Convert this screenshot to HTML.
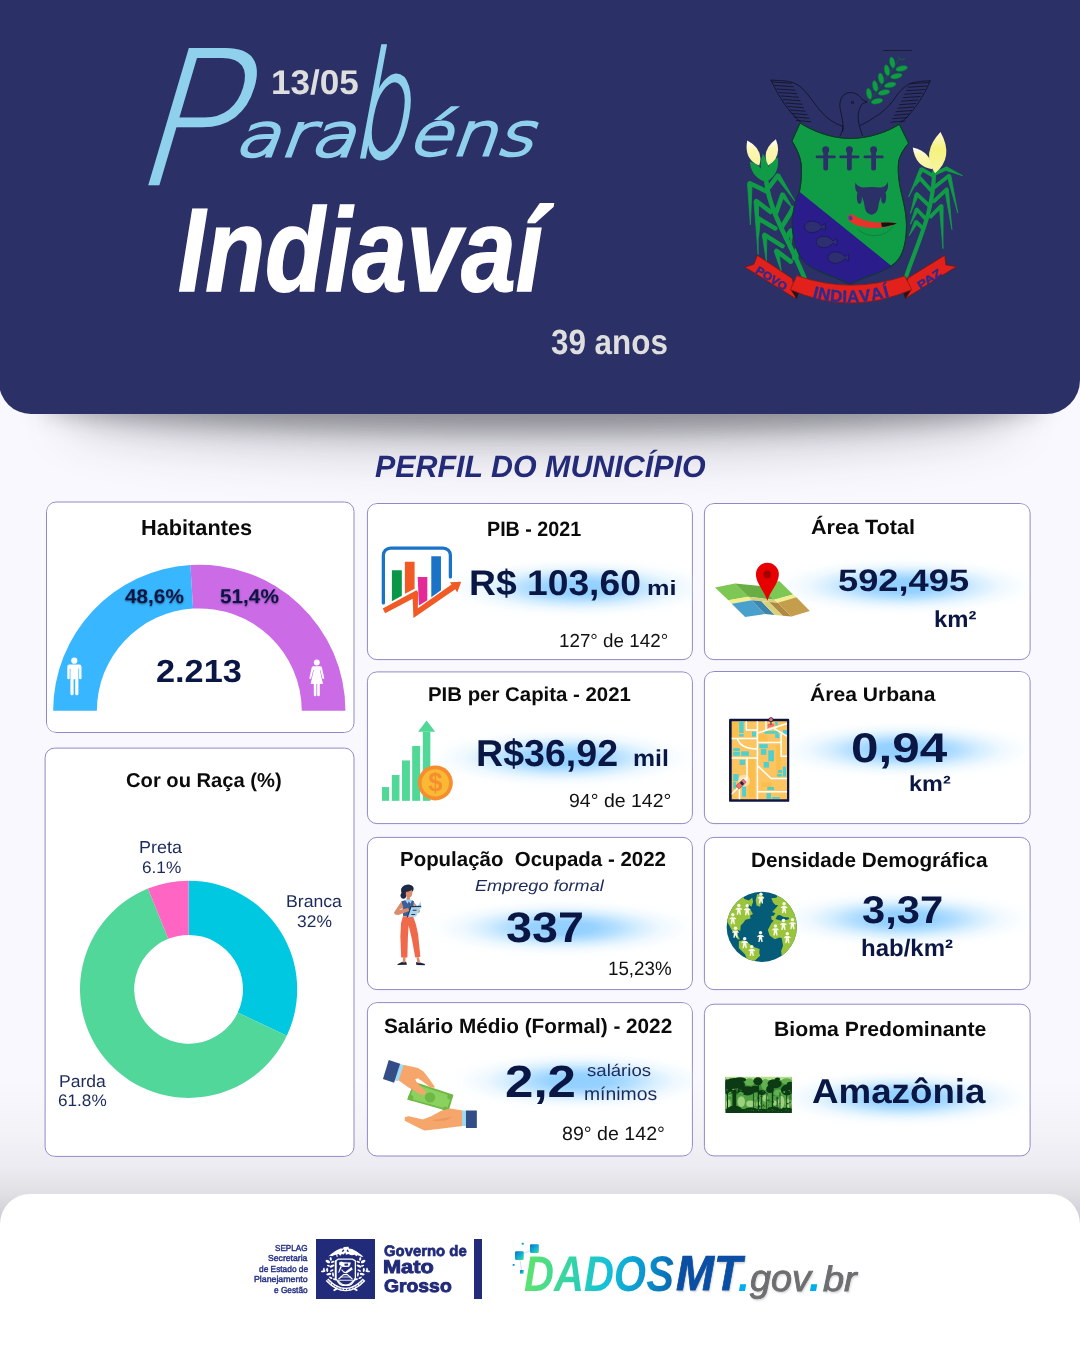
<!DOCTYPE html>
<html lang="pt-BR">
<head>
<meta charset="utf-8">
<title>Parabéns Indiavaí - Perfil do Município</title>
<style>
html,body{margin:0;padding:0}
body{width:1080px;height:1350px;position:relative;overflow:hidden;background:#f9f8fe;font-family:'Liberation Sans',sans-serif}
#page{position:absolute;left:0;top:0;width:1080px;height:1350px;overflow:hidden;background:linear-gradient(180deg,#f9f8fe 0px,#f9f8fe 1080px,#f3f2f7 1135px,#ecebf1 1168px,#dfdfe4 1194px,#c8c8ce 1226px,#c8c8ce 1350px)}
.t{position:absolute;white-space:nowrap;transform-origin:0 0;display:block;text-rendering:geometricPrecision}
.script{margin:0;padding:0;position:absolute;left:0;top:0;font-weight:400}
.sh{text-shadow:0 1px 2px rgba(0,0,30,.45)}
header{position:absolute;left:-1px;top:0;width:1081px;height:413.5px;background:#2b3067;border-radius:0 0 34px 32px;z-index:3}
.hshadow{position:absolute;left:40px;top:376px;width:1004px;height:56px;background:rgba(30,30,40,.40);border-radius:50%;filter:blur(12px);z-index:1}
.hshadow2{position:absolute;left:60px;top:380px;width:960px;height:80px;background:rgba(30,30,40,.16);border-radius:50%;filter:blur(22px);z-index:1}
main{position:absolute;left:0;top:0;width:1080px;height:1350px;z-index:2}
.card{position:absolute;box-sizing:border-box;border-radius:11px;overflow:hidden}
.cb{position:absolute;left:0;top:0}
.glow{position:absolute;border-radius:50%;background:radial-gradient(closest-side,rgba(140,205,255,.95) 0%,rgba(142,206,255,.92) 22%,rgba(155,212,255,.75) 38%,rgba(175,222,255,.5) 54%,rgba(200,233,255,.27) 70%,rgba(225,242,255,.1) 86%,rgba(255,255,255,0) 100%)}
.ic{position:absolute;overflow:visible}
.dlogo{position:absolute;left:0;top:0}
footer{position:absolute;left:0;top:1193.5px;width:1080px;height:156.5px;background:#fff;border-radius:30px 30px 0 0;z-index:3}
footer .sq{position:absolute;left:315.6px;top:45.5px;width:59.6px;height:59.5px;background:#222b7a}
footer .bar{position:absolute;left:474px;top:45.5px;width:8px;height:59.5px;background:#222b7a}
.gov{-webkit-text-stroke:.9px #6d6e71;text-shadow:1px 1.5px 2px rgba(0,0,0,.16)}
.mt{-webkit-text-stroke:.8px #0a4fa3;text-shadow:1px 2px 2px rgba(0,0,0,.18)}
.dados{background:linear-gradient(100deg,#62e566 0%,#3ad6a0 28%,#14c2d8 55%,#0b93cf 80%,#0a62ab 100%);-webkit-background-clip:text;background-clip:text;color:transparent !important;-webkit-text-fill-color:transparent}
</style>
</head>
<body>
<div id="page">
<div class="hshadow2"></div>
<div class="hshadow"></div>
<header>
<svg class="ic" style="left:1px;top:0" width="1080" height="414" viewBox="0 0 1080 414"><defs><linearGradient id="pet" x1="0" y1="0" x2="0" y2="1"><stop offset="0" stop-color="#ffffff"/><stop offset=".35" stop-color="#fcf8b4"/><stop offset="1" stop-color="#f6f2a0"/></linearGradient><linearGradient id="pet2" x1="0" y1="0" x2="0" y2="1"><stop offset="0" stop-color="#fdfbd0"/><stop offset=".4" stop-color="#f5f27e"/><stop offset="1" stop-color="#f7f4a4"/></linearGradient></defs><g id="brasao"><g fill="none" stroke="#0f0f1c" stroke-width="0.75" stroke-linecap="round" stroke-linejoin="round"><path d="M770.9 80.1C780 80.5 787 80.8 791.7 82.2C800 85 804 90 809.3 96.3C815 104 820 111.5 826.9 117.4C832 121.5 837 124.5 842.7 126.2"/><path d="M770.9 80.1C778 95 788 112 800.5 121.8"/><path d="M930.3 80.8C921 81.2 915.5 81.8 911.3 83.1C903 86.5 898.5 92.8 893.7 99.8C888 107.2 882 112.8 874.4 117.4C869.5 120.6 865 123.2 860.3 125.3"/><path d="M930.3 80.8C924 96 913 113 900.7 122.7"/><path d="M772.5 82.0L791.5 83.2"/><path d="M774.7 85.5L793.2 86.7"/><path d="M776.9 89.0L795.0 90.2"/><path d="M779.0 92.5L796.7 93.7"/><path d="M781.2 96.0L798.4 97.2"/><path d="M783.4 99.5L800.1 100.7"/><path d="M785.6 103.0L801.9 104.2"/><path d="M787.8 106.5L803.6 107.7"/><path d="M790.0 110.0L805.3 111.2"/><path d="M792.1 113.5L807.0 114.7"/><path d="M794.3 117.0L808.8 118.2"/><path d="M796.5 120.5L810.5 121.7"/><path d="M929.0 82.5L910.0 83.7"/><path d="M926.8 86.0L908.3 87.2"/><path d="M924.6 89.5L906.5 90.7"/><path d="M922.5 93.0L904.8 94.2"/><path d="M920.3 96.5L903.1 97.7"/><path d="M918.1 100.0L901.4 101.2"/><path d="M915.9 103.5L899.6 104.7"/><path d="M913.7 107.0L897.9 108.2"/><path d="M911.5 110.5L896.2 111.7"/><path d="M909.4 114.0L894.5 115.2"/><path d="M907.2 117.5L892.7 118.7"/><path d="M905.0 121.0L891.0 122.2"/><path d="M842.7 131.5C843.5 127 843 121 841 113C838.5 104 840 96.5 846 93.5C852 91 858.5 93.5 862 99.5L867.3 101.9L862.5 103.5C858 109 857 118 859.5 126C860.5 129.5 861.5 132.5 862.5 135.5"/><circle cx="852.4" cy="102.5" r="1.2"/><path d="M842.7 126.2C843.5 128.5 842 132 840 136"/></g><path d="M883.2 50.5H912.2" stroke="#15152c" stroke-width="0.8"/><path d="M868.5 102.5C878 90 888 76 899 59" stroke="#0b6b30" stroke-width="0.7" fill="none"/><ellipse cx="869.1" cy="93.7" rx="2.7" ry="5.6" transform="rotate(-12 869.1 93.7)" fill="#109b46" stroke="#0b6b30" stroke-width="0.5"/><ellipse cx="875.2" cy="86.1" rx="2.7" ry="5.6" transform="rotate(-12 875.2 86.1)" fill="#109b46" stroke="#0b6b30" stroke-width="0.5"/><ellipse cx="881.0" cy="78.4" rx="2.7" ry="5.6" transform="rotate(-12 881.0 78.4)" fill="#109b46" stroke="#0b6b30" stroke-width="0.5"/><ellipse cx="887.0" cy="70.3" rx="2.7" ry="5.6" transform="rotate(-12 887.0 70.3)" fill="#109b46" stroke="#0b6b30" stroke-width="0.5"/><ellipse cx="892.3" cy="62.5" rx="2.7" ry="5.6" transform="rotate(-12 892.3 62.5)" fill="#109b46" stroke="#0b6b30" stroke-width="0.5"/><ellipse cx="877.0" cy="101.2" rx="6" ry="2.7" transform="rotate(-12 877.0 101.2)" fill="#109b46" stroke="#0b6b30" stroke-width="0.5"/><ellipse cx="884.0" cy="92.4" rx="6" ry="2.7" transform="rotate(-12 884.0 92.4)" fill="#109b46" stroke="#0b6b30" stroke-width="0.5"/><ellipse cx="890.2" cy="84.9" rx="6" ry="2.7" transform="rotate(-12 890.2 84.9)" fill="#109b46" stroke="#0b6b30" stroke-width="0.5"/><ellipse cx="896.3" cy="76.1" rx="6" ry="2.7" transform="rotate(-12 896.3 76.1)" fill="#109b46" stroke="#0b6b30" stroke-width="0.5"/><ellipse cx="901.6" cy="68.5" rx="6" ry="2.7" transform="rotate(-12 901.6 68.5)" fill="#109b46" stroke="#0b6b30" stroke-width="0.5"/><path d="M898 57L901 60L905 58.5" stroke="#0b6b30" stroke-width="0.9" fill="none"/><g><path d="M766.4 182.1C769.4 212.1 790.3 242.6 804.3 277.6" stroke="#109b46" stroke-width="4.6" fill="none" stroke-linecap="round"/><path d="M767.0 191.6L749.8 183.3" stroke="#109b46" stroke-width="4.6" stroke-linecap="round" fill="none"/><path d="M747.5 183.4L750.4 224.8L752.1 183.3Z" fill="#109b46" stroke="#109b46" stroke-width="0.8" stroke-linejoin="round"/><path d="M770.6 211.8L756.3 201.1" stroke="#109b46" stroke-width="4.6" stroke-linecap="round" fill="none"/><path d="M754.0 201.2L758.1 254.4L758.6 201.0Z" fill="#109b46" stroke="#109b46" stroke-width="0.8" stroke-linejoin="round"/><path d="M775.3 228.4L758.1 218.3" stroke="#109b46" stroke-width="4.6" stroke-linecap="round" fill="none"/><path d="M755.8 218.4L758.7 236.7L760.4 218.2Z" fill="#109b46" stroke="#109b46" stroke-width="0.8" stroke-linejoin="round"/><path d="M782.4 246.1L764.6 234.9" stroke="#109b46" stroke-width="4.6" stroke-linecap="round" fill="none"/><path d="M762.3 235.0L766.4 261.6L766.9 234.7Z" fill="#109b46" stroke="#109b46" stroke-width="0.8" stroke-linejoin="round"/><path d="M790.7 261.6L776.5 250.9" stroke="#109b46" stroke-width="4.6" stroke-linecap="round" fill="none"/><path d="M774.2 251.4L781.2 271.0L778.7 250.4Z" fill="#109b46" stroke="#109b46" stroke-width="0.8" stroke-linejoin="round"/><path d="M769.4 186.9L777.7 175.6" stroke="#109b46" stroke-width="4.6" stroke-linecap="round" fill="none"/><path d="M775.8 176.9L794.9 201.1L779.6 174.3Z" fill="#109b46" stroke="#109b46" stroke-width="0.8" stroke-linejoin="round"/><path d="M776.5 211.8L782.4 194.6" stroke="#109b46" stroke-width="4.6" stroke-linecap="round" fill="none"/><path d="M780.6 196.0L793.1 208.8L784.2 193.2Z" fill="#109b46" stroke="#109b46" stroke-width="0.8" stroke-linejoin="round"/><path d="M782.4 226.0L793.1 208.2" stroke="#109b46" stroke-width="4.6" stroke-linecap="round" fill="none"/><path d="M791.0 207.2L790.7 213.0L795.1 209.3Z" fill="#109b46" stroke="#109b46" stroke-width="0.8" stroke-linejoin="round"/><path d="M786.0 237.9L790.7 230.7" stroke="#109b46" stroke-width="4.6" stroke-linecap="round" fill="none"/><path d="M788.4 230.8L791.3 243.8L793.0 230.6Z" fill="#109b46" stroke="#109b46" stroke-width="0.8" stroke-linejoin="round"/><path d="M794.3 258.0L796.6 250.3" stroke="#109b46" stroke-width="4.6" stroke-linecap="round" fill="none"/><path d="M794.3 250.6L797.8 259.2L798.9 250.0Z" fill="#109b46" stroke="#109b46" stroke-width="0.8" stroke-linejoin="round"/><path d="M766.4 182.1Q765.2 166.1 749.8 161.4Q751.0 177.5 766.4 182.1Z" fill="#109b46"/><path d="M766.4 182.1Q772.2 167.0 762.9 153.7Q757.1 168.9 766.4 182.1Z" fill="#109b46"/><path d="M766.4 182.1Q780.3 173.5 777.7 157.3Q763.7 166.0 766.4 182.1Z" fill="#109b46"/><path d="M759.3 165.6Q764.3 149.3 747.3 140.4Q743.5 159.2 759.3 165.6Z" fill="url(#pet)"/><path d="M768.2 165.6Q782.7 156.9 775.9 139.2Q760.6 150.5 768.2 165.6Z" fill="url(#pet)"/></g><g><path d="M934.1 172.1C933.1 212.1 920.3 235.9 906.3 275.9" stroke="#109b46" stroke-width="4.2" fill="none" stroke-linecap="round"/><path d="M932.9 175.7L921.7 169.2" stroke="#109b46" stroke-width="3.8" stroke-linecap="round" fill="none"/><path d="M919.9 168.4L908.6 197.0L923.4 170.0Z" fill="#109b46" stroke="#109b46" stroke-width="0.8" stroke-linejoin="round"/><path d="M930.6 189.9L919.9 178.1" stroke="#109b46" stroke-width="3.8" stroke-linecap="round" fill="none"/><path d="M918.2 177.1L915.1 186.4L921.5 179.0Z" fill="#109b46" stroke="#109b46" stroke-width="0.8" stroke-linejoin="round"/><path d="M930.0 206.5L916.9 194.1" stroke="#109b46" stroke-width="3.8" stroke-linecap="round" fill="none"/><path d="M915.1 193.5L910.4 213.6L918.7 194.7Z" fill="#109b46" stroke="#109b46" stroke-width="0.8" stroke-linejoin="round"/><path d="M925.2 218.4L916.9 209.5" stroke="#109b46" stroke-width="3.8" stroke-linecap="round" fill="none"/><path d="M915.2 208.7L910.4 224.3L918.7 210.2Z" fill="#109b46" stroke="#109b46" stroke-width="0.8" stroke-linejoin="round"/><path d="M922.9 228.4L916.3 221.9" stroke="#109b46" stroke-width="3.8" stroke-linecap="round" fill="none"/><path d="M914.6 221.0L909.2 235.6L918.0 222.8Z" fill="#109b46" stroke="#109b46" stroke-width="0.8" stroke-linejoin="round"/><path d="M934.7 173.9L946.0 168.6" stroke="#109b46" stroke-width="3.8" stroke-linecap="round" fill="none"/><path d="M945.2 170.3L962.6 175.7L946.7 166.8Z" fill="#109b46" stroke="#109b46" stroke-width="0.8" stroke-linejoin="round"/><path d="M934.7 187.0L948.9 175.7" stroke="#109b46" stroke-width="3.8" stroke-linecap="round" fill="none"/><path d="M947.1 176.1L957.8 213.0L950.8 175.3Z" fill="#109b46" stroke="#109b46" stroke-width="0.8" stroke-linejoin="round"/><path d="M934.1 201.2L946.6 189.3" stroke="#109b46" stroke-width="3.8" stroke-linecap="round" fill="none"/><path d="M944.7 189.6L951.9 229.6L948.4 189.1Z" fill="#109b46" stroke="#109b46" stroke-width="0.8" stroke-linejoin="round"/><path d="M930.6 216.6L941.2 205.9" stroke="#109b46" stroke-width="3.8" stroke-linecap="round" fill="none"/><path d="M939.3 206.0L943.0 248.6L943.1 205.8Z" fill="#109b46" stroke="#109b46" stroke-width="0.8" stroke-linejoin="round"/><path d="M932.3 169.2Q931.7 152.1 912.8 147.5Q915.4 166.8 932.3 169.2Z" fill="url(#pet)"/><path d="M935.1 173.3Q954.4 156.9 940.5 131.9Q920.7 152.5 935.1 173.3Z" fill="url(#pet2)"/></g><clipPath id="shc"><path d="M800.1 123 C812 130.5 830 138.3 850 138.5 C870 138.3 888 131.5 899.3 124.3 L908.6 143.1 C903 150 899.5 156 898.6 161.9 C897.8 170 898.5 177 899.3 182.6 C901.5 196 906.6 210 906.5 226 C906.4 240 904 251 899 258.5 C893.5 266 884 271 870.7 275.5 C862 278.5 855 281.5 850 284.3 C845 281.5 833 277 818.9 271.1 C810 267 805 263 802 259.4 C796 251 792.6 238 792.3 224 C792.2 212 795.5 200 799.4 191.8 C801 185 801.6 176 801.4 167 C801 158 797 149 791.9 141.1 Z"/></clipPath><path d="M800.1 123 C812 130.5 830 138.3 850 138.5 C870 138.3 888 131.5 899.3 124.3 L908.6 143.1 C903 150 899.5 156 898.6 161.9 C897.8 170 898.5 177 899.3 182.6 C901.5 196 906.6 210 906.5 226 C906.4 240 904 251 899 258.5 C893.5 266 884 271 870.7 275.5 C862 278.5 855 281.5 850 284.3 C845 281.5 833 277 818.9 271.1 C810 267 805 263 802 259.4 C796 251 792.6 238 792.3 224 C792.2 212 795.5 200 799.4 191.8 C801 185 801.6 176 801.4 167 C801 158 797 149 791.9 141.1 Z" fill="#109b46" stroke="#0a3d22" stroke-width="1" stroke-linejoin="round"/><g clip-path="url(#shc)"><path d="M780 176.2L799.4 191.8L891.5 265.9L891.5 300L780 300Z" fill="#2b1c8c"/></g><path d="M800.1 123 C812 130.5 830 138.3 850 138.5 C870 138.3 888 131.5 899.3 124.3 L908.6 143.1 C903 150 899.5 156 898.6 161.9 C897.8 170 898.5 177 899.3 182.6 C901.5 196 906.6 210 906.5 226 C906.4 240 904 251 899 258.5 C893.5 266 884 271 870.7 275.5 C862 278.5 855 281.5 850 284.3 C845 281.5 833 277 818.9 271.1 C810 267 805 263 802 259.4 C796 251 792.6 238 792.3 224 C792.2 212 795.5 200 799.4 191.8 C801 185 801.6 176 801.4 167 C801 158 797 149 791.9 141.1 Z" fill="none" stroke="#0b3a24" stroke-width="0.9" stroke-linejoin="round" opacity=".85"/><circle cx="825.7" cy="149.8" r="3.5" fill="#2b3067"/><rect x="823.3000000000001" y="149" width="4.8" height="21.5" rx="2" fill="#2b3067"/><rect x="815.7" y="155.4" width="20" height="2.9" rx="1.2" fill="#2b3067"/><circle cx="849.4" cy="149.8" r="3.5" fill="#2b3067"/><rect x="847.0" y="149" width="4.8" height="21.5" rx="2" fill="#2b3067"/><rect x="839.4" y="155.4" width="20" height="2.9" rx="1.2" fill="#2b3067"/><circle cx="873.6" cy="149.8" r="3.5" fill="#2b3067"/><rect x="871.2" y="149" width="4.8" height="21.5" rx="2" fill="#2b3067"/><rect x="863.6" y="155.4" width="20" height="2.9" rx="1.2" fill="#2b3067"/><path fill="#2b3067" d="M855.6 182.6C856.5 185 858.5 186.8 861.5 187.2C865 187.8 869 187 871.6 187C874.2 187 878.5 187.8 882 187.2C885 186.8 886.8 184.8 887.7 181.8C888.6 186 888 190 885.5 192.5C886.3 195 886.5 198 885.5 201.5C884.6 204 882.8 204.2 881.8 202C881.2 200.5 881 198.5 881.2 196.5C880 199 879 202 878.4 206C878 210 876.5 213.8 871.5 214.8C866.5 213.8 865 210 864.6 206C864 202 863 199 861.8 196.5C862 198.5 861.8 200.8 861.2 202.3C860.2 204.5 858.4 204.3 857.5 201.8C856.5 198.3 856.7 195.3 857.5 192.8C855 190.3 854.6 186.5 855.6 182.6Z"/><path d="M848.2 215.4C850.6 213.6 853.5 214.4 856 216.4C864 221 874 222.6 883 222.4C888 222.2 893 222.5 896.8 223.5C893 225.5 888 226.8 882 227.4C870 229 856.5 227.2 849.6 221.2C847.6 219.4 847.2 216.8 848.2 215.4Z" fill="#e5352b"/><path d="M881 222.7C887 222.3 893 222.6 896.8 223.5C893 225.2 887.5 226.3 882 227Z" fill="#141414"/><ellipse cx="850.4" cy="218" rx="2" ry="2.6" fill="#3f3fa0" transform="rotate(-25 850.4 218)"/><path d="M857.5 229C866 237.5 884 239 893.5 226" stroke="#0c7a38" stroke-width="0.7" fill="none"/><path d="M804.5 226.8C805.1 219.4 817.1 219.4 821.3 225.8L825.4 223.4L825.4 230.4L821.3 228.0C817.1 234.4 805.1 234.2 804.5 226.8Z" fill="#2d2f70" stroke="#1d1560" stroke-width="0.8"/><path d="M816.1 241.9C816.7 234.5 828.7 234.5 832.9 240.9L837.0 238.5L837.0 245.5L832.9 243.1C828.7 249.5 816.7 249.3 816.1 241.9Z" fill="#2d2f70" stroke="#1d1560" stroke-width="0.8"/><path d="M827.8 257.5C828.4 250.1 840.4 250.1 844.6 256.5L848.7 254.1L848.7 261.1L844.6 258.7C840.4 265.1 828.4 264.9 827.8 257.5Z" fill="#2d2f70" stroke="#1d1560" stroke-width="0.8"/><path d="M757.4 255.3L753.7 264.5L744.6 267.0L795.7 298.6L792.5 278.7Z" fill="#e2211c" stroke="#7a1512" stroke-width="0.8" stroke-linejoin="round"/><path d="M944.8 255.3L945.8 264.9L956.5 266.6L905.4 298.6L907.9 278.1Z" fill="#e2211c" stroke="#7a1512" stroke-width="0.8" stroke-linejoin="round"/><path d="M790.8 290.0L798.9 292.6L796.8 299.0Z" fill="#2a1414" /><path d="M911.3 290.0L903.2 292.6L905.4 299.0Z" fill="#2a1414" /><path d="M796.8 275.6Q850 294.5 904.9 276.0L911.7 289.6Q850 316.5 790.4 289.6Z" fill="#e2211c" stroke="#8a1a14" stroke-width="0.8" stroke-linejoin="round"/><text x="812.30 817.28 829.68 842.23 847.35 860.11 872.13 885.17" y="297.60 298.87 301.19 302.34 302.47 301.96 300.43 297.66" rotate="14.3 10.6 5.2 1.4 -2.3 -7.2 -12.0 -15.3" font-family="'Liberation Sans',sans-serif" font-weight="700" font-size="16.81" fill="#2a2c8f" stroke="#2a2c8f" stroke-width="0.4">INDIAVAÍ</text><text font-family="'Liberation Sans',sans-serif" font-weight="700" font-size="11.2" fill="#2a2c8f" stroke="#2a2c8f" stroke-width="0.4" transform="translate(754.8 272.2) rotate(32.5)" textLength="35" lengthAdjust="spacingAndGlyphs">POVO</text><text font-family="'Liberation Sans',sans-serif" font-weight="700" font-size="11.2" fill="#2a2c8f" stroke="#2a2c8f" stroke-width="0.4" transform="translate(920.4 289.6) rotate(-34)" textLength="26.5" lengthAdjust="spacingAndGlyphs">PAZ</text></g></svg>
<h1 class="script" aria-label="Parabéns"><span class="t" style="left:175.01px;top:28.45px;font-size:184.85px;line-height:184.85px;transform:scaleX(0.9663) skewX(-17deg);color:#8fd1ec;font-family:'DejaVu Sans','Liberation Sans',sans-serif;font-weight:200;-webkit-text-stroke:2.4px #8fd1ec;">P</span><span class="t" style="left:252.83px;top:106.51px;font-size:59.46px;line-height:59.46px;transform:scaleX(1.2387) skewX(-17deg);color:#8fd1ec;font-family:'DejaVu Sans','Liberation Sans',sans-serif;font-weight:200;-webkit-text-stroke:2.8px #8fd1ec;">ara</span><span class="t" style="left:374.84px;top:33.72px;font-size:146.30px;line-height:146.30px;transform:scaleX(0.6109) skewX(-17deg);color:#8fd1ec;font-family:'DejaVu Sans','Liberation Sans',sans-serif;font-weight:200;-webkit-text-stroke:3px #8fd1ec;">b</span><span class="t" style="left:425.67px;top:105.39px;font-size:59.07px;line-height:59.07px;transform:scaleX(1.2007) skewX(-17deg);color:#8fd1ec;font-family:'DejaVu Sans','Liberation Sans',sans-serif;font-weight:200;-webkit-text-stroke:2.8px #8fd1ec;">éns</span></h1>
<span class="t" style="left:271.56px;top:65.73px;font-size:34.29px;line-height:34.29px;transform:scaleX(1.0230);color:#dedede;font-family:'Liberation Sans',sans-serif;font-weight:700;">13/05</span>
<span class="t" style="left:178.87px;top:192.39px;font-size:118.76px;line-height:118.76px;transform:scaleX(0.8253);color:#fff;font-family:'Liberation Sans',sans-serif;font-weight:700;font-style:italic;-webkit-text-stroke:1.6px #fff;">Indiavaí</span>
<span class="t" style="left:552.37px;top:324.56px;font-size:35.17px;line-height:35.17px;transform:scaleX(0.8923);color:#dedede;font-family:'Liberation Sans',sans-serif;font-weight:700;">39 anos</span>
</header>
<main>
<span class="t" style="left:375.19px;top:451.53px;font-size:30.97px;line-height:30.97px;transform:scaleX(0.9819);color:#232a78;font-family:'Liberation Sans',sans-serif;font-weight:700;font-style:italic;">PERFIL DO MUNICÍPIO</span>

<section class="card" id="c_hab" style="left:46px;top:501px;width:309px;height:232px">
<svg class="cb" width="309" height="232" viewBox="0 0 309 232"><rect x="0.50" y="1.00" width="307.50" height="230.50" rx="9.5" fill="#fff" stroke="#8f8ac6" stroke-width="1"/></svg>
<svg class="ic" style="left:-46.0px;top:-501.0px" width="1080" height="1350" viewBox="0 0 1080 1350"><path fill="#38b6ff" d="M53.15 710.85A146.15 146.15 0 0 1 190.40 564.97L193.06 608.59A102.45 102.45 0 0 0 96.85 710.85Z"/><path fill="#cb6ce6" d="M190.40 564.97A146.15 146.15 0 0 1 345.45 710.85L301.75 710.85A102.45 102.45 0 0 0 193.06 608.59Z"/><g fill="#fff"><circle cx="74.3" cy="660.7" r="3.1"/><path d="M69.6 664.6h9.6a2.3 2.3 0 0 1 2.3 2.3v11.2a1.2 1.2 0 0 1 -2.4 0v-9.6h-0.7v25.2a1.6 1.6 0 0 1 -3.2 0v-14.4h-1.6v14.4a1.6 1.6 0 0 1 -3.2 0v-25.2h-0.7v9.6a1.2 1.2 0 0 1 -2.4 0v-11.2a2.3 2.3 0 0 1 2.3 -2.3z"/><circle cx="316.8" cy="662.5" r="2.95"/><path d="M313.6 666.2h6.4a2 2 0 0 1 1.9 1.3l2.3 10.3a0.9 0.9 0 0 1 -1.8 0.5l-2.1 -8.3h-0.5l3.2 14.1h-3.2v10.9a1.3 1.3 0 0 1 -2.6 0v-10.9h-0.8v10.9a1.3 1.3 0 0 1 -2.6 0v-10.9h-3.2l3.2 -14.1h-0.5l-2.1 8.3a0.9 0.9 0 0 1 -1.8 -0.5l2.3 -10.3a2 2 0 0 1 1.9 -1.3z"/></g></svg>
<span class="t" style="left:95.32px;top:15.51px;font-size:21.74px;line-height:21.74px;transform:scaleX(0.9993);color:#0b0b0b;font-family:'Liberation Sans',sans-serif;font-weight:700;">Habitantes</span>
<span class="t sh" style="left:78.73px;top:86.75px;font-size:19.89px;line-height:19.89px;transform:scaleX(1.0444);color:#0a1644;font-family:'Liberation Sans',sans-serif;font-weight:700;">48,6%</span>
<span class="t sh" style="left:173.97px;top:86.84px;font-size:19.87px;line-height:19.87px;transform:scaleX(1.0453);color:#0a1644;font-family:'Liberation Sans',sans-serif;font-weight:700;">51,4%</span>
<span class="t" style="left:110.24px;top:154.42px;font-size:32.00px;line-height:32.00px;transform:scaleX(1.0721);color:#0a1644;font-family:'Liberation Sans',sans-serif;font-weight:700;">2.213</span>
</section>
<section class="card" id="c_cor" style="left:44px;top:747px;width:311px;height:410px">
<svg class="cb" width="311" height="410" viewBox="0 0 311 410"><rect x="1.10" y="1.10" width="308.90" height="408.30" rx="9.5" fill="#fff" stroke="#8f8ac6" stroke-width="1"/></svg>
<svg class="ic" style="left:-44.0px;top:-747.0px" width="1080" height="1350" viewBox="0 0 1080 1350"><path fill="#00c8e0" d="M188.60 880.70A108.6 108.6 0 0 1 286.77 1035.74L237.78 1012.56A54.4 54.4 0 0 0 188.60 934.90Z"/><path fill="#52d79b" d="M286.77 1035.74A108.6 108.6 0 1 1 147.95 888.60L168.24 938.85A54.4 54.4 0 1 0 237.78 1012.56Z"/><path fill="#ff66c4" d="M147.95 888.60A108.6 108.6 0 0 1 188.60 880.70L188.60 934.90A54.4 54.4 0 0 0 168.24 938.85Z"/></svg>
<span class="t" style="left:82.25px;top:24.06px;font-size:20.00px;line-height:20.00px;transform:scaleX(1.0081);color:#0b0b0b;font-family:'Liberation Sans',sans-serif;font-weight:700;">Cor ou Raça (%)</span>
<span class="t" style="left:95.26px;top:91.54px;font-size:17.31px;line-height:17.31px;transform:scaleX(1.0370);color:#1c2a5c;font-family:'Liberation Sans',sans-serif;font-weight:400;">Preta</span>
<span class="t" style="left:98.14px;top:112.60px;font-size:16.69px;line-height:16.69px;transform:scaleX(1.0315);color:#1c2a5c;font-family:'Liberation Sans',sans-serif;font-weight:400;">6.1%</span>
<span class="t" style="left:241.64px;top:146.44px;font-size:17.14px;line-height:17.14px;transform:scaleX(1.0310);color:#1c2a5c;font-family:'Liberation Sans',sans-serif;font-weight:400;">Branca</span>
<span class="t" style="left:252.79px;top:166.52px;font-size:16.81px;line-height:16.81px;transform:scaleX(1.0382);color:#1c2a5c;font-family:'Liberation Sans',sans-serif;font-weight:400;">32%</span>
<span class="t" style="left:14.70px;top:325.85px;font-size:17.10px;line-height:17.10px;transform:scaleX(1.0250);color:#1c2a5c;font-family:'Liberation Sans',sans-serif;font-weight:400;">Parda</span>
<span class="t" style="left:14.14px;top:346.17px;font-size:16.75px;line-height:16.75px;transform:scaleX(1.0251);color:#1c2a5c;font-family:'Liberation Sans',sans-serif;font-weight:400;">61.8%</span>
</section>
<section class="card" id="c_pib" style="left:366px;top:503px;width:327px;height:158px">
<svg class="cb" width="327" height="158" viewBox="0 0 327 158"><rect x="1.40" y="0.50" width="325.00" height="156.10" rx="9.5" fill="#fff" stroke="#8f8ac6" stroke-width="1"/></svg>
<div class="glow" style="left:70.0px;top:53.5px;width:288px;height:62px"></div>
<svg class="ic" style="left:-366.0px;top:-503.0px" width="1080" height="1350" viewBox="0 0 1080 1350"><polygon points="391.89,570.35 401.83,570.35 401.83,595.86 391.89,601.14" fill="#0a9648" /><polygon points="404.91,561.73 414.58,561.73 414.58,588.65 404.91,593.84" fill="#f15a24" /><polygon points="417.66,576.95 427.34,576.95 427.34,600.26 418.98,605.53" fill="#e52a96" /><polygon points="431.30,556.27 440.97,556.27 440.97,590.32 431.30,597.18" fill="#1a73c7" /><path d="M383.36 602.90V555.29a7.2 7.2 0 0 1 7.2 -7.2H443.19a7.2 7.2 0 0 1 7.2 7.2V576.95" fill="none" stroke="#1a73c7" stroke-width="3.3" stroke-linecap="round"/><polygon points="382.74,608.61 416.34,590.14 418.10,591.90 417.84,608.17 451.53,584.42 449.95,582.22 461.21,581.87 457.25,592.52 455.23,589.26 413.44,618.11 412.65,598.76 385.12,613.19" fill="#f15a24" /></svg>
<span class="t" style="left:120.71px;top:16.94px;font-size:20.90px;line-height:20.90px;transform:scaleX(0.9423);color:#0b0b0b;font-family:'Liberation Sans',sans-serif;font-weight:700;">PIB - 2021</span>
<span class="t" style="left:103.10px;top:62.70px;font-size:35.79px;line-height:35.79px;transform:scaleX(1.0410);color:#0a1644;font-family:'Liberation Sans',sans-serif;font-weight:700;">R$ 103,60</span>
<span class="t" style="left:281.31px;top:76.17px;font-size:20.75px;line-height:20.75px;transform:scaleX(1.2169);color:#0a1644;font-family:'Liberation Sans',sans-serif;font-weight:700;">mi</span>
<span class="t" style="left:193.04px;top:129.23px;font-size:18.84px;line-height:18.84px;transform:scaleX(0.9987);color:#111;font-family:'Liberation Sans',sans-serif;font-weight:400;">127° de 142°</span>
</section>
<section class="card" id="c_pibpc" style="left:366px;top:671px;width:327px;height:154px">
<svg class="cb" width="327" height="154" viewBox="0 0 327 154"><rect x="1.40" y="0.90" width="325.00" height="151.70" rx="9.5" fill="#fff" stroke="#8f8ac6" stroke-width="1"/></svg>
<div class="glow" style="left:54.0px;top:56.0px;width:284px;height:62px"></div>
<svg class="ic" style="left:-366.0px;top:-671.0px" width="1080" height="1350" viewBox="0 0 1080 1350"><rect x="382.00" y="787.08" width="7.08" height="13.75" fill="#50d896"/><rect x="391.83" y="775.00" width="7.67" height="25.83" fill="#50d896"/><rect x="402.00" y="760.42" width="7.92" height="40.42" fill="#50d896"/><rect x="412.17" y="746.00" width="8.00" height="54.83" fill="#50d896"/><rect x="422.83" y="731.67" width="7.50" height="69.17" fill="#50d896"/><polygon points="426.58,720.42 435.17,731.83 418.08,731.83" fill="#50d896" /><circle cx="435.33" cy="782.92" r="17.5" fill="#f68d2e"/><circle cx="435.33" cy="782.92" r="13.7" fill="#f9b934"/><text x="435.33" y="791.22" text-anchor="middle" font-family="'Liberation Sans',sans-serif" font-weight="700" font-size="25.5" fill="#f68d2e">$</text></svg>
<span class="t" style="left:61.66px;top:14.61px;font-size:19.89px;line-height:19.89px;transform:scaleX(1.0261);color:#0b0b0b;font-family:'Liberation Sans',sans-serif;font-weight:700;">PIB per Capita - 2021</span>
<span class="t" style="left:110.19px;top:64.44px;font-size:37.46px;line-height:37.46px;transform:scaleX(1.0030);color:#0a1644;font-family:'Liberation Sans',sans-serif;font-weight:700;">R$36,92</span>
<span class="t" style="left:266.76px;top:76.02px;font-size:23.22px;line-height:23.22px;transform:scaleX(1.0669);color:#0a1644;font-family:'Liberation Sans',sans-serif;font-weight:700;">mil</span>
<span class="t" style="left:203.12px;top:121.09px;font-size:19.08px;line-height:19.08px;transform:scaleX(1.0222);color:#111;font-family:'Liberation Sans',sans-serif;font-weight:400;">94° de 142°</span>
</section>
<section class="card" id="c_pop" style="left:366px;top:836px;width:327px;height:155px">
<svg class="cb" width="327" height="155" viewBox="0 0 327 155"><rect x="1.40" y="1.40" width="325.00" height="152.20" rx="9.5" fill="#fff" stroke="#8f8ac6" stroke-width="1"/></svg>
<div class="glow" style="left:52.0px;top:62.0px;width:288px;height:60px"></div>
<svg class="ic" style="left:-366.0px;top:-836.0px" width="1080" height="1350" viewBox="0 0 1080 1350"><polygon points="397.32,964.21 401.89,962.10 406.11,961.74 406.96,964.70 397.67,965.12" fill="#1a2340" /><polygon points="416.10,962.10 420.19,962.45 424.97,964.00 424.76,965.26 416.32,964.98" fill="#1a2340" /><polygon points="403.16,957.17 405.55,957.17 405.41,962.45 402.59,962.45" fill="#d98d6c" /><polygon points="416.53,957.17 418.92,957.17 420.19,962.80 417.37,962.80" fill="#d98d6c" /><polygon points="402.95,916.35 413.15,916.56 415.96,924.45 418.08,934.30 420.40,956.82 415.26,957.38 411.74,938.52 408.57,925.15 407.87,937.82 407.38,957.38 401.19,957.38 400.34,936.41 401.05,923.04" fill="#f0694a" /><polygon points="406.96,897.00 409.77,897.00 410.19,901.22 406.11,901.22" fill="#d98d6c" /><polygon points="401.33,901.22 406.11,899.96 411.74,899.96 413.99,901.57 413.50,907.56 412.80,916.35 403.16,916.00 402.59,908.26" fill="#3b5f96" /><polygon points="405.06,899.96 407.52,903.69 408.93,901.22 410.48,903.69 412.09,900.17 409.77,899.46 406.46,899.46" fill="#a6d3ee" /><polygon points="413.85,901.93 415.96,904.74 420.19,911.08 418.78,913.19 414.56,908.26" fill="#d98d6c" /><polygon points="418.08,905.80 420.54,901.57 421.59,907.56 419.48,909.67" fill="#a6d3ee" /><polygon points="411.18,906.29 421.03,906.15 416.10,916.56 406.96,917.41" fill="#a6d3ee" /><polygon points="411.18,906.01 421.17,905.87 421.03,906.99 411.18,907.13" fill="#2a3554" /><polygon points="410.33,906.29 411.60,906.43 407.87,917.41 406.67,917.27" fill="#2a3554" /><polygon points="412.80,909.67 416.67,909.67 416.39,910.79 412.59,910.79" fill="#2a3554" /><polygon points="411.39,913.89 415.26,913.89 414.98,915.02 411.18,915.02" fill="#2a3554" /><polygon points="401.33,901.57 403.44,907.56 399.07,910.02 408.22,908.12 409.28,911.08 398.37,914.95 394.85,914.59 394.01,912.48" fill="#d98d6c" /><ellipse cx="407.38" cy="889.26" rx="6.40" ry="4.60" fill="#1f2a44" transform="rotate(-12 407.38 889.26)"/><ellipse cx="403.44" cy="895.59" rx="2.90" ry="3.10" fill="#1f2a44"/><ellipse cx="404.35" cy="891.37" rx="3.00" ry="4.40" fill="#1f2a44"/><ellipse cx="409.07" cy="893.34" rx="3.30" ry="4.10" fill="#d98d6c" transform="rotate(8 409.07 893.34)"/><ellipse cx="407.66" cy="888.56" rx="5.60" ry="3.00" fill="#1f2a44" transform="rotate(-14 407.66 888.56)"/></svg>
<span class="t" style="left:34.43px;top:13.69px;font-size:20.53px;line-height:20.53px;transform:scaleX(0.9966);color:#0b0b0b;font-family:'Liberation Sans',sans-serif;font-weight:700;white-space:pre;">População  Ocupada - 2022</span>
<span class="t" style="left:109.02px;top:42.91px;font-size:15.94px;line-height:15.94px;transform:scaleX(1.1360);color:#1c2a5c;font-family:'Liberation Sans',sans-serif;font-weight:400;font-style:italic;">Emprego formal</span>
<span class="t" style="left:140.16px;top:71.28px;font-size:42.72px;line-height:42.72px;transform:scaleX(1.0925);color:#0a1644;font-family:'Liberation Sans',sans-serif;font-weight:700;">337</span>
<span class="t" style="left:242.15px;top:124.14px;font-size:19.43px;line-height:19.43px;transform:scaleX(0.9659);color:#111;font-family:'Liberation Sans',sans-serif;font-weight:400;">15,23%</span>
</section>
<section class="card" id="c_sal" style="left:366px;top:1002px;width:327px;height:155px">
<svg class="cb" width="327" height="155" viewBox="0 0 327 155"><rect x="1.40" y="0.60" width="325.00" height="153.40" rx="9.5" fill="#fff" stroke="#8f8ac6" stroke-width="1"/></svg>
<div class="glow" style="left:76.0px;top:47.5px;width:276px;height:62px"></div>
<svg class="ic" style="left:-366.0px;top:-1002.0px" width="1080" height="1350" viewBox="0 0 1080 1350"><polygon points="414.21,1081.78 453.43,1094.82 448.54,1111.32 407.08,1099.40" fill="#6db944" /><polygon points="414.93,1084.12 451.19,1096.04 447.11,1109.08 409.43,1098.38" fill="#8bd15f" /><circle cx="430.00" cy="1097.36" r="5.2" fill="#6fb746"/><circle cx="410.65" cy="1097.67" r="2.6" fill="#6fb746"/><circle cx="449.86" cy="1096.65" r="2.6" fill="#6fb746"/><circle cx="445.28" cy="1109.08" r="2.6" fill="#6fb746"/><path d="M403.01 1065.48 L417.78 1068.84 L422.87 1071.90 L427.96 1078.52 L433.87 1086.87 L430.51 1086.67 L422.87 1080.56 L417.78 1077.30 L414.21 1079.03 L415.74 1082.08 L422.87 1089.72 L425.42 1092.27 L423.69 1094.61 L419.82 1093.29 L408.61 1086.67 L398.94 1079.54Z" fill="#f6a66b" stroke="#f6a66b" stroke-width="1.6" stroke-linejoin="round"/><polygon points="399.95,1063.75 403.72,1065.28 398.12,1081.27 394.35,1080.35" fill="#9adcf5" /><polygon points="388.75,1059.98 400.16,1063.85 394.05,1082.80 382.94,1079.03" fill="#344d86" /><path d="M405.56 1117.73 L408.61 1117.02 L422.87 1120.28 L432.04 1116.71 L441.20 1111.62 L450.37 1109.28 L462.39 1111.32 L462.39 1125.17 L440.19 1127.92 L424.91 1129.65 L419.82 1127.41 L405.56 1120.28Z" fill="#f6a66b" stroke="#f6a66b" stroke-width="1.6" stroke-linejoin="round"/><polygon points="432.04,1120.28 452.41,1116.71 446.30,1120.28 436.11,1121.30" fill="#e8905a" opacity=".7"/><polygon points="462.08,1110.60 466.36,1110.60 466.36,1125.88 462.08,1125.88" fill="#9adcf5" /><polygon points="465.96,1110.60 476.85,1110.60 476.85,1127.92 465.96,1127.92" fill="#344d86" /></svg>
<span class="t" style="left:18.29px;top:14.91px;font-size:20.63px;line-height:20.63px;transform:scaleX(1.0058);color:#0b0b0b;font-family:'Liberation Sans',sans-serif;font-weight:700;">Salário Médio (Formal) - 2022</span>
<span class="t" style="left:138.61px;top:57.27px;font-size:45.00px;line-height:45.00px;transform:scaleX(1.1339);color:#0a1644;font-family:'Liberation Sans',sans-serif;font-weight:700;">2,2</span>
<span class="t" style="left:220.81px;top:60.74px;font-size:16.79px;line-height:16.79px;transform:scaleX(1.1084);color:#1c2a5c;font-family:'Liberation Sans',sans-serif;font-weight:400;">salários</span>
<span class="t" style="left:217.84px;top:82.53px;font-size:18.30px;line-height:18.30px;transform:scaleX(1.0586);color:#1c2a5c;font-family:'Liberation Sans',sans-serif;font-weight:400;">mínimos</span>
<span class="t" style="left:196.43px;top:122.53px;font-size:19.23px;line-height:19.23px;transform:scaleX(1.0204);color:#111;font-family:'Liberation Sans',sans-serif;font-weight:400;">89° de 142°</span>
</section>
<section class="card" id="c_area" style="left:703px;top:503px;width:328px;height:158px">
<svg class="cb" width="328" height="158" viewBox="0 0 328 158"><rect x="1.40" y="0.50" width="325.70" height="156.10" rx="9.5" fill="#fff" stroke="#8f8ac6" stroke-width="1"/></svg>
<div class="glow" style="left:61.0px;top:52.5px;width:280px;height:60px"></div>
<svg class="ic" style="left:-703.0px;top:-503.0px" width="1080" height="1350" viewBox="0 0 1080 1350"><polygon points="714.93,587.39 734.99,583.52 748.23,596.76 728.37,600.32" fill="#7dc855" /><polygon points="728.37,600.32 748.23,596.76 751.80,600.32 731.63,603.69" fill="#f3ee8c" /><polygon points="731.63,603.69 751.80,600.32 765.04,614.08 745.18,616.93" fill="#4aa0cd" /><polygon points="734.99,583.52 760.96,586.07 774.20,599.82 748.23,596.76" fill="#69ad45" /><polygon points="748.23,596.76 774.20,599.82 777.77,602.87 751.80,600.32" fill="#d8d27c" /><polygon points="751.80,600.32 761.47,601.34 774.71,614.89 765.04,614.08" fill="#3f86ad" /><polygon points="761.47,601.34 769.11,602.06 782.86,615.81 774.71,614.89" fill="#d8d27c" /><polygon points="769.11,602.06 777.77,602.87 791.52,616.62 782.86,615.81" fill="#b08a42" /><polygon points="760.96,586.07 779.30,580.97 793.05,594.52 774.20,599.82" fill="#7dc855" /><polygon points="774.20,599.82 793.05,594.52 796.41,597.27 777.77,602.87" fill="#f3ee8c" /><polygon points="777.77,602.87 796.41,597.27 809.85,611.02 791.52,616.62" fill="#c49d4d" /><path d="M767.38 600.83C764.88 591.83 755.88 583.35 755.88 574.35A11.5 11.5 0 0 1 778.88 574.35C778.88 583.35 769.88 591.83 767.38 600.83Z" fill="#e60000"/><circle cx="767.38" cy="574.35" r="3.9" fill="#a50000"/></svg>
<span class="t" style="left:108.26px;top:14.61px;font-size:20.58px;line-height:20.58px;transform:scaleX(1.0495);color:#0b0b0b;font-family:'Liberation Sans',sans-serif;font-weight:700;">Área Total</span>
<span class="t" style="left:135.04px;top:62.22px;font-size:31.08px;line-height:31.08px;transform:scaleX(1.1669);color:#0a1644;font-family:'Liberation Sans',sans-serif;font-weight:700;">592,495</span>
<span class="t" style="left:231.00px;top:104.52px;font-size:23.08px;line-height:23.08px;transform:scaleX(1.0330);color:#0a1644;font-family:'Liberation Sans',sans-serif;font-weight:700;">km²</span>
</section>
<section class="card" id="c_urb" style="left:703px;top:671px;width:328px;height:154px">
<svg class="cb" width="328" height="154" viewBox="0 0 328 154"><rect x="1.40" y="0.50" width="325.70" height="152.10" rx="9.5" fill="#fff" stroke="#8f8ac6" stroke-width="1"/></svg>
<div class="glow" style="left:62.0px;top:48.5px;width:280px;height:60px"></div>
<svg class="ic" style="left:-703.0px;top:-671.0px" width="1080" height="1350" viewBox="0 0 1080 1350"><rect x="729.04" y="718.74" width="60.22" height="83.11" rx="1.2" fill="#0d1440"/><rect x="731.70" y="721.26" width="55.33" height="78.00" fill="#fdc562"/><clipPath id="umc"><rect x="731.70" y="721.26" width="55.33" height="78.00"/></clipPath><g clip-path="url(#umc)"><rect x="748.52" y="758.89" width="6.30" height="38.52" fill="#fbbb46" opacity=".8"/><rect x="761.48" y="782.59" width="10.37" height="4.44" fill="#fbbb46" opacity=".8"/><rect x="731.85" y="721.85" width="6.67" height="16.30" fill="#fbbb46" opacity=".8"/><rect x="758.52" y="734.44" width="8.89" height="7.41" fill="#fbbb46" opacity=".8"/><rect x="776.30" y="744.81" width="4.44" height="31.85" fill="#fbbb46" opacity=".8"/><rect x="739.11" y="721.11" width="4.59" height="11.85" fill="#4dd0cf"/><rect x="739.11" y="734.07" width="4.59" height="2.59" fill="#4dd0cf"/><rect x="752.00" y="731.63" width="3.93" height="5.04" fill="#4dd0cf"/><rect x="764.44" y="731.11" width="14.07" height="2.59" fill="#4dd0cf"/><rect x="775.19" y="721.85" width="2.59" height="3.70" fill="#4dd0cf"/><rect x="775.19" y="733.70" width="4.07" height="4.44" fill="#4dd0cf"/><rect x="782.96" y="730.00" width="4.07" height="4.44" fill="#4dd0cf"/><rect x="759.26" y="744.22" width="8.52" height="3.93" fill="#4dd0cf"/><rect x="760.89" y="748.89" width="5.41" height="5.93" fill="#4dd0cf"/><rect x="768.30" y="750.37" width="5.63" height="10.89" fill="#4dd0cf"/><rect x="733.19" y="748.15" width="6.67" height="2.96" fill="#4dd0cf"/><rect x="733.19" y="751.85" width="6.67" height="3.93" fill="#4dd0cf"/><rect x="741.11" y="751.33" width="7.78" height="4.44" fill="#4dd0cf"/><rect x="739.63" y="759.78" width="5.41" height="5.19" fill="#4dd0cf"/><rect x="763.70" y="762.00" width="5.33" height="5.63" fill="#4dd0cf"/><rect x="782.81" y="766.67" width="3.26" height="10.00" fill="#4dd0cf"/><rect x="778.15" y="770.00" width="3.93" height="2.96" fill="#4dd0cf"/><rect x="777.19" y="774.07" width="4.89" height="2.59" fill="#4dd0cf"/><rect x="733.19" y="774.07" width="5.33" height="7.04" fill="#4dd0cf"/><rect x="733.19" y="781.85" width="2.74" height="6.67" fill="#4dd0cf"/><rect x="742.07" y="786.30" width="4.00" height="10.37" fill="#4dd0cf"/><rect x="767.26" y="787.04" width="6.67" height="2.96" fill="#4dd0cf"/><rect x="766.52" y="793.11" width="4.44" height="5.78" fill="#4dd0cf"/><rect x="771.85" y="797.04" width="8.00" height="1.85" fill="#4dd0cf"/><path d="M731.11 738.52 L757.41 738.52" fill="none" stroke="#fff" stroke-width="1.5" stroke-linejoin="round"/><path d="M731.11 758.00 L757.41 758.00" fill="none" stroke="#fff" stroke-width="1.5" stroke-linejoin="round"/><path d="M757.41 742.59 L781.33 742.59" fill="none" stroke="#fff" stroke-width="1.5" stroke-linejoin="round"/><path d="M757.41 791.85 L787.41 791.85" fill="none" stroke="#fff" stroke-width="1.5" stroke-linejoin="round"/><path d="M757.41 765.56 L771.11 778.52 L787.41 778.52" fill="none" stroke="#fff" stroke-width="1.5" stroke-linejoin="round"/><path d="M746.30 721.11 L746.30 730.00 L757.41 730.00" fill="none" stroke="#fff" stroke-width="1.5" stroke-linejoin="round"/><path d="M757.41 720.37 L757.41 799.63" fill="none" stroke="#fff" stroke-width="1.5" stroke-linejoin="round"/><path d="M765.93 721.11 L765.93 730.00" fill="none" stroke="#fff" stroke-width="1.5" stroke-linejoin="round"/><path d="M781.11 733.70 L781.11 756.30 L787.41 756.30" fill="none" stroke="#fff" stroke-width="1.5" stroke-linejoin="round"/><path d="M739.48 788.52 L739.48 799.63" fill="none" stroke="#fff" stroke-width="1.5" stroke-linejoin="round"/><path d="M747.04 758.00 L747.04 778.15 L742.22 784.07 L731.11 794.44" fill="none" stroke="#fff" stroke-width="1.5" stroke-linejoin="round"/><path d="M757.41 733.11 L787.41 723.48" fill="none" stroke="#fff" stroke-width="1.5" stroke-linejoin="round"/><path d="M774.07 728.52 L787.41 736.30" fill="none" stroke="#fff" stroke-width="1.5" stroke-linejoin="round"/><path d="M737.41 738.74C739.41 744.74 744.41 748.89 757.41 748.89" fill="none" stroke="#fff" stroke-width="1.5"/><circle cx="744.07" cy="780.74" r="6" fill="#fff" opacity=".45"/><circle cx="744.07" cy="780.74" r="3.6" fill="#fff" opacity=".5"/><g transform="rotate(-42 741.11 784.07)"><rect x="735.91" y="781.77" width="10.4" height="4.6" rx="1.2" fill="#f26d6d" stroke="#3a2340" stroke-width=".35"/><rect x="740.91" y="782.27" width="2.6" height="3.6" rx=".6" fill="#1a2340"/></g><polygon points="767.78,723.70 774.07,723.70 774.07,725.93 767.78,728.00" fill="#f26d6d" /></g><circle cx="770.96" cy="719.63" r="2.1" fill="#f26d6d" stroke="#0d1440" stroke-width=".7"/><path d="M770.96 721.63V724.63" stroke="#0d1440" stroke-width=".9"/></svg>
<span class="t" style="left:106.65px;top:14.63px;font-size:19.82px;line-height:19.82px;transform:scaleX(1.0646);color:#0b0b0b;font-family:'Liberation Sans',sans-serif;font-weight:700;">Área Urbana</span>
<span class="t" style="left:148.17px;top:55.76px;font-size:41.43px;line-height:41.43px;transform:scaleX(1.1924);color:#0a1644;font-family:'Liberation Sans',sans-serif;font-weight:700;">0,94</span>
<span class="t" style="left:206.36px;top:102.34px;font-size:21.80px;line-height:21.80px;transform:scaleX(1.0759);color:#0a1644;font-family:'Liberation Sans',sans-serif;font-weight:700;">km²</span>
</section>
<section class="card" id="c_dens" style="left:703px;top:836px;width:328px;height:155px">
<svg class="cb" width="328" height="155" viewBox="0 0 328 155"><rect x="1.40" y="1.40" width="325.70" height="152.20" rx="9.5" fill="#fff" stroke="#8f8ac6" stroke-width="1"/></svg>
<div class="glow" style="left:63.0px;top:53.0px;width:276px;height:60px"></div>
<svg class="ic" style="left:-703.0px;top:-836.0px" width="1080" height="1350" viewBox="0 0 1080 1350"><clipPath id="glc"><circle cx="761.75" cy="926.9" r="35.1"/></clipPath><circle cx="761.75" cy="926.9" r="35.1" fill="#055c79"/><g clip-path="url(#glc)" fill="#9ac43c"><path d="M743.00 896.67 L745.50 899.17 L748.83 900.42 L752.17 897.67 L753.17 901.83 L751.33 906.83 L749.00 905.00 L747.17 905.83 L750.92 910.42 L753.00 914.00 L750.08 915.42 L750.50 918.50 L745.50 919.83 L743.00 923.33 L740.67 925.42 L740.33 930.67 L738.00 930.00 L737.58 935.00 L739.83 939.33 L738.00 939.58 L734.67 935.00 L731.33 929.17 L728.00 923.33 L725.50 919.17 L724.67 905.00 L734.67 895.00Z" stroke-linejoin="round"/><path d="M743.83 897.08 L747.17 895.83 L748.42 897.92 L746.33 899.33 L744.00 898.75Z" fill="#055c79" stroke-linejoin="round"/><path d="M757.17 894.00 L763.42 896.25 L763.00 900.00 L760.92 902.50 L760.08 906.83 L756.50 905.42 L755.67 900.00Z" stroke-linejoin="round"/><path d="M738.83 941.25 L743.00 940.17 L746.33 941.25 L753.00 946.67 L759.67 949.00 L759.25 952.50 L760.08 955.83 L754.67 960.83 L751.33 962.50 L747.17 959.58 L745.08 954.58 L738.83 947.92Z" stroke-linejoin="round"/><path d="M771.33 898.33 L776.33 897.67 L777.83 895.42 L801.33 892.50 L801.33 955.00 L781.75 957.08 L781.17 950.83 L783.00 945.83 L781.75 938.33 L779.67 937.50 L774.67 939.33 L769.67 935.42 L767.83 930.00 L771.33 923.33 L773.67 920.67 L771.33 919.17 L771.33 916.00 L773.67 915.83 L775.50 913.33 L772.17 912.08 L776.33 907.50 L778.17 905.00 L775.50 905.00 L773.00 902.50Z" stroke-linejoin="round"/><path d="M775.50 919.00 L777.33 915.42 L779.67 915.00 L783.83 917.08 L788.83 917.50 L789.00 919.00 L786.33 920.00 L783.83 919.17 L781.33 920.67 L778.00 919.83Z" fill="#055c79" stroke-linejoin="round"/></g><g fill="#f7f6e8"><circle cx="760.92" cy="894.17" r="1.75"/><path d="M757.52 897.77L759.32 896.47H762.52L764.32 897.77L763.82 898.77L762.42 898.17L763.12 903.57H761.82L760.92 900.57L760.02 903.57H758.72L759.42 898.17L758.02 898.77Z"/><circle cx="738.83" cy="905.42" r="1.75"/><path d="M735.43 909.02L737.23 907.72H740.43L742.23 909.02L741.73 910.02L740.33 909.42L741.03 914.82H739.73L738.83 911.82L737.93 914.82H736.63L737.33 909.42L735.93 910.02Z"/><circle cx="747.17" cy="905.83" r="1.75"/><path d="M743.77 909.43L745.57 908.13H748.77L750.57 909.43L750.07 910.43L748.67 909.83L749.37 915.23H748.07L747.17 912.23L746.27 915.23H744.97L745.67 909.83L744.27 910.43Z"/><circle cx="732.83" cy="914.83" r="1.75"/><path d="M729.43 918.43L731.23 917.13H734.43L736.23 918.43L735.73 919.43L734.33 918.83L735.03 924.23H733.73L732.83 921.23L731.93 924.23H730.63L731.33 918.83L729.93 919.43Z"/><circle cx="735.50" cy="928.33" r="1.75"/><path d="M732.10 931.93L733.90 930.63H737.10L738.90 931.93L738.40 932.93L737.00 932.33L737.70 937.73H736.40L735.50 934.73L734.60 937.73H733.30L734.00 932.33L732.60 932.93Z"/><circle cx="744.67" cy="938.75" r="1.75"/><path d="M741.27 942.35L743.07 941.05H746.27L748.07 942.35L747.57 943.35L746.17 942.75L746.87 948.15H745.57L744.67 945.15L743.77 948.15H742.47L743.17 942.75L741.77 943.35Z"/><circle cx="751.75" cy="946.67" r="1.75"/><path d="M748.35 950.27L750.15 948.97H753.35L755.15 950.27L754.65 951.27L753.25 950.67L753.95 956.07H752.65L751.75 953.07L750.85 956.07H749.55L750.25 950.67L748.85 951.27Z"/><circle cx="760.50" cy="932.67" r="1.75"/><path d="M757.10 936.27L758.90 934.97H762.10L763.90 936.27L763.40 937.27L762.00 936.67L762.70 942.07H761.40L760.50 939.07L759.60 942.07H758.30L759.00 936.67L757.60 937.27Z"/><circle cx="784.08" cy="903.75" r="1.75"/><path d="M780.68 907.35L782.48 906.05H785.68L787.48 907.35L786.98 908.35L785.58 907.75L786.28 913.15H784.98L784.08 910.15L783.18 913.15H781.88L782.58 907.75L781.18 908.35Z"/><circle cx="783.42" cy="920.58" r="1.75"/><path d="M780.02 924.18L781.82 922.88H785.02L786.82 924.18L786.32 925.18L784.92 924.58L785.62 929.98H784.32L783.42 926.98L782.52 929.98H781.22L781.92 924.58L780.52 925.18Z"/><circle cx="792.42" cy="919.83" r="1.75"/><path d="M789.02 923.43L790.82 922.13H794.02L795.82 923.43L795.32 924.43L793.92 923.83L794.62 929.23H793.32L792.42 926.23L791.52 929.23H790.22L790.92 923.83L789.52 924.43Z"/><circle cx="775.50" cy="926.00" r="1.75"/><path d="M772.10 929.60L773.90 928.30H777.10L778.90 929.60L778.40 930.60L777.00 930.00L777.70 935.40H776.40L775.50 932.40L774.60 935.40H773.30L774.00 930.00L772.60 930.60Z"/><circle cx="787.33" cy="933.75" r="1.75"/><path d="M783.93 937.35L785.73 936.05H788.93L790.73 937.35L790.23 938.35L788.83 937.75L789.53 943.15H788.23L787.33 940.15L786.43 943.15H785.13L785.83 937.75L784.43 938.35Z"/></g></svg>
<span class="t" style="left:47.61px;top:14.94px;font-size:20.59px;line-height:20.59px;transform:scaleX(1.0086);color:#0b0b0b;font-family:'Liberation Sans',sans-serif;font-weight:700;">Densidade Demográfica</span>
<span class="t" style="left:158.94px;top:55.98px;font-size:38.58px;line-height:38.58px;transform:scaleX(1.0809);color:#0a1644;font-family:'Liberation Sans',sans-serif;font-weight:700;">3,37</span>
<span class="t" style="left:158.31px;top:100.78px;font-size:23.87px;line-height:23.87px;transform:scaleX(1.0057);color:#0a1644;font-family:'Liberation Sans',sans-serif;font-weight:700;">hab/km²</span>
</section>
<section class="card" id="c_bioma" style="left:703px;top:1003px;width:328px;height:154px">
<svg class="cb" width="328" height="154" viewBox="0 0 328 154"><rect x="1.40" y="1.20" width="325.70" height="151.70" rx="9.5" fill="#fff" stroke="#8f8ac6" stroke-width="1"/></svg>
<div class="glow" style="left:63.0px;top:64.5px;width:276px;height:60px"></div>
<svg class="ic" style="left:-703.0px;top:-1003.0px" width="1080" height="1350" viewBox="0 0 1080 1350"><clipPath id="frc"><rect x="725.42" y="1076.92" width="66.42" height="36.00"/></clipPath><rect x="725.42" y="1076.92" width="66.42" height="36.00" fill="#3e8d36"/><g clip-path="url(#frc)"><rect x="725.42" y="1076.92" width="66.42" height="3.4" fill="#b5df88"/><rect x="725.42" y="1092.50" width="66.42" height="17.50" fill="#4f9f42" opacity="1"/><ellipse cx="741.25" cy="1101.67" rx="3.75" ry="5.42" fill="#a5d684" opacity="0.9"/><ellipse cx="750.42" cy="1103.75" rx="4.17" ry="3.33" fill="#a5d684" opacity="0.9"/><ellipse cx="774.58" cy="1102.92" rx="2.50" ry="2.50" fill="#a5d684" opacity="0.9"/><ellipse cx="781.25" cy="1102.08" rx="3.17" ry="6.25" fill="#a5d684" opacity="0.9"/><ellipse cx="788.75" cy="1103.33" rx="3.17" ry="5.00" fill="#a5d684" opacity="0.9"/><ellipse cx="728.33" cy="1104.17" rx="2.33" ry="4.58" fill="#a5d684" opacity="0.9"/><ellipse cx="765.00" cy="1098.33" rx="2.50" ry="3.33" fill="#a5d684" opacity="0.9"/><ellipse cx="758.33" cy="1104.17" rx="2.08" ry="2.92" fill="#a5d684" opacity="0.9"/><ellipse cx="749.58" cy="1082.08" rx="5.00" ry="3.75" fill="#62b050" opacity="1"/><ellipse cx="765.42" cy="1084.58" rx="4.17" ry="5.83" fill="#62b050" opacity="1"/><ellipse cx="786.67" cy="1081.25" rx="5.00" ry="2.92" fill="#62b050" opacity="1"/><ellipse cx="778.33" cy="1092.50" rx="4.17" ry="2.92" fill="#62b050" opacity="1"/><ellipse cx="734.17" cy="1085.83" rx="10.83" ry="7.92" fill="#0b3a15" opacity="1"/><ellipse cx="726.67" cy="1086.67" rx="3.33" ry="7.50" fill="#0b3a15" opacity="1"/><ellipse cx="740.00" cy="1079.58" rx="6.25" ry="2.33" fill="#0b3a15" opacity="1"/><ellipse cx="747.50" cy="1090.83" rx="7.08" ry="4.58" fill="#0b3a15" opacity="1"/><ellipse cx="757.92" cy="1081.25" rx="4.58" ry="4.00" fill="#0b3a15" opacity="1"/><ellipse cx="755.00" cy="1089.17" rx="4.17" ry="3.33" fill="#0b3a15" opacity="1"/><ellipse cx="774.58" cy="1083.75" rx="7.08" ry="4.58" fill="#0b3a15" opacity="1"/><ellipse cx="777.50" cy="1079.00" rx="2.67" ry="1.50" fill="#0b3a15" opacity="1"/><ellipse cx="770.00" cy="1089.17" rx="3.75" ry="3.75" fill="#0b3a15" opacity="1"/><ellipse cx="787.08" cy="1090.00" rx="6.25" ry="5.42" fill="#0b3a15" opacity="1"/><ellipse cx="790.00" cy="1085.00" rx="3.33" ry="3.33" fill="#0b3a15" opacity="1"/><ellipse cx="761.67" cy="1092.50" rx="3.75" ry="2.50" fill="#0b3a15" opacity="1"/><ellipse cx="734.21" cy="1094.11" rx="1.28" ry="0.61" fill="#2f7d2c" opacity="0.9"/><ellipse cx="740.92" cy="1090.57" rx="1.20" ry="0.61" fill="#2f7d2c" opacity="0.9"/><ellipse cx="739.88" cy="1089.65" rx="0.87" ry="0.45" fill="#2f7d2c" opacity="0.9"/><ellipse cx="737.24" cy="1094.46" rx="0.93" ry="0.61" fill="#2f7d2c" opacity="0.9"/><ellipse cx="736.93" cy="1090.26" rx="0.68" ry="0.64" fill="#62b050" opacity="0.9"/><ellipse cx="727.26" cy="1097.18" rx="1.07" ry="0.74" fill="#86c46a" opacity="0.9"/><ellipse cx="734.01" cy="1096.82" rx="1.01" ry="0.68" fill="#86c46a" opacity="0.9"/><ellipse cx="726.74" cy="1089.56" rx="1.10" ry="0.59" fill="#2f7d2c" opacity="0.9"/><ellipse cx="743.26" cy="1096.80" rx="1.14" ry="0.55" fill="#62b050" opacity="0.9"/><ellipse cx="735.21" cy="1089.04" rx="1.04" ry="0.46" fill="#62b050" opacity="0.9"/><ellipse cx="740.78" cy="1092.45" rx="1.31" ry="0.77" fill="#62b050" opacity="0.9"/><ellipse cx="730.23" cy="1097.63" rx="0.70" ry="0.57" fill="#2f7d2c" opacity="0.9"/><ellipse cx="733.29" cy="1089.45" rx="1.09" ry="0.74" fill="#86c46a" opacity="0.9"/><ellipse cx="732.28" cy="1091.73" rx="0.68" ry="0.59" fill="#62b050" opacity="0.9"/><ellipse cx="728.91" cy="1095.53" rx="0.67" ry="0.61" fill="#86c46a" opacity="0.9"/><ellipse cx="729.63" cy="1094.11" rx="0.96" ry="0.50" fill="#2f7d2c" opacity="0.9"/><ellipse cx="739.49" cy="1092.77" rx="0.92" ry="0.58" fill="#62b050" opacity="0.9"/><ellipse cx="726.67" cy="1097.03" rx="1.32" ry="0.66" fill="#62b050" opacity="0.9"/><ellipse cx="730.18" cy="1092.53" rx="1.24" ry="0.68" fill="#62b050" opacity="0.9"/><ellipse cx="727.37" cy="1090.15" rx="0.96" ry="0.42" fill="#2f7d2c" opacity="0.9"/><ellipse cx="732.15" cy="1091.59" rx="0.72" ry="0.45" fill="#2f7d2c" opacity="0.9"/><ellipse cx="737.28" cy="1088.90" rx="0.91" ry="0.68" fill="#62b050" opacity="0.9"/><ellipse cx="742.65" cy="1093.39" rx="1.05" ry="0.78" fill="#62b050" opacity="0.9"/><ellipse cx="737.12" cy="1091.73" rx="0.82" ry="0.67" fill="#2f7d2c" opacity="0.9"/><ellipse cx="729.83" cy="1095.84" rx="1.29" ry="0.50" fill="#86c46a" opacity="0.9"/><ellipse cx="741.37" cy="1094.53" rx="0.95" ry="0.46" fill="#62b050" opacity="0.9"/><ellipse cx="735.21" cy="1091.20" rx="1.16" ry="0.58" fill="#86c46a" opacity="0.9"/><ellipse cx="740.40" cy="1094.47" rx="0.86" ry="0.49" fill="#2f7d2c" opacity="0.9"/><ellipse cx="790.72" cy="1092.32" rx="1.07" ry="0.80" fill="#2f7d2c" opacity="0.85"/><ellipse cx="761.68" cy="1106.82" rx="0.84" ry="0.43" fill="#0b3a15" opacity="0.85"/><ellipse cx="767.14" cy="1094.57" rx="0.71" ry="0.58" fill="#1c5a1f" opacity="0.85"/><ellipse cx="753.84" cy="1092.54" rx="1.04" ry="0.61" fill="#1c5a1f" opacity="0.85"/><ellipse cx="774.58" cy="1106.93" rx="1.06" ry="0.63" fill="#0b3a15" opacity="0.85"/><ellipse cx="790.12" cy="1090.39" rx="1.20" ry="0.70" fill="#0b3a15" opacity="0.85"/><ellipse cx="763.29" cy="1108.32" rx="0.73" ry="0.74" fill="#2f7d2c" opacity="0.85"/><ellipse cx="787.51" cy="1103.51" rx="1.25" ry="0.88" fill="#0b3a15" opacity="0.85"/><ellipse cx="764.66" cy="1102.56" rx="1.42" ry="0.92" fill="#62b050" opacity="0.85"/><ellipse cx="789.34" cy="1090.55" rx="1.08" ry="0.43" fill="#62b050" opacity="0.85"/><ellipse cx="765.80" cy="1090.23" rx="0.73" ry="0.47" fill="#2f7d2c" opacity="0.85"/><ellipse cx="791.39" cy="1106.13" rx="1.27" ry="0.64" fill="#62b050" opacity="0.85"/><ellipse cx="768.36" cy="1105.37" rx="0.74" ry="0.85" fill="#2f7d2c" opacity="0.85"/><ellipse cx="762.93" cy="1091.61" rx="0.69" ry="0.98" fill="#2f7d2c" opacity="0.85"/><ellipse cx="770.72" cy="1101.27" rx="1.43" ry="0.57" fill="#2f7d2c" opacity="0.85"/><ellipse cx="765.33" cy="1092.63" rx="1.18" ry="0.72" fill="#0b3a15" opacity="0.85"/><ellipse cx="777.50" cy="1098.10" rx="1.41" ry="0.61" fill="#0b3a15" opacity="0.85"/><ellipse cx="758.27" cy="1097.90" rx="1.34" ry="0.95" fill="#1c5a1f" opacity="0.85"/><ellipse cx="766.02" cy="1100.69" rx="0.93" ry="0.50" fill="#62b050" opacity="0.85"/><ellipse cx="764.61" cy="1106.42" rx="0.70" ry="0.45" fill="#0b3a15" opacity="0.85"/><ellipse cx="784.24" cy="1092.07" rx="1.06" ry="0.96" fill="#62b050" opacity="0.85"/><ellipse cx="765.94" cy="1099.53" rx="1.23" ry="0.83" fill="#62b050" opacity="0.85"/><ellipse cx="763.35" cy="1105.19" rx="0.90" ry="0.77" fill="#0b3a15" opacity="0.85"/><ellipse cx="773.77" cy="1095.67" rx="1.33" ry="0.43" fill="#1c5a1f" opacity="0.85"/><ellipse cx="766.88" cy="1093.48" rx="1.31" ry="0.57" fill="#1c5a1f" opacity="0.85"/><ellipse cx="783.20" cy="1108.04" rx="0.76" ry="0.48" fill="#0b3a15" opacity="0.85"/><ellipse cx="789.94" cy="1102.55" rx="0.83" ry="0.69" fill="#1c5a1f" opacity="0.85"/><ellipse cx="779.76" cy="1103.84" rx="1.11" ry="0.44" fill="#1c5a1f" opacity="0.85"/><ellipse cx="761.35" cy="1096.34" rx="1.25" ry="0.72" fill="#1c5a1f" opacity="0.85"/><ellipse cx="766.40" cy="1104.52" rx="1.42" ry="0.47" fill="#62b050" opacity="0.85"/><ellipse cx="755.41" cy="1098.31" rx="1.19" ry="0.95" fill="#62b050" opacity="0.85"/><ellipse cx="772.92" cy="1101.97" rx="1.09" ry="0.89" fill="#0b3a15" opacity="0.85"/><ellipse cx="769.32" cy="1101.94" rx="0.84" ry="0.84" fill="#2f7d2c" opacity="0.85"/><ellipse cx="758.89" cy="1106.50" rx="1.48" ry="0.99" fill="#0b3a15" opacity="0.85"/><ellipse cx="760.91" cy="1103.17" rx="0.68" ry="0.71" fill="#2f7d2c" opacity="0.85"/><ellipse cx="768.37" cy="1100.09" rx="1.31" ry="0.70" fill="#2f7d2c" opacity="0.85"/><ellipse cx="759.10" cy="1105.91" rx="1.02" ry="0.44" fill="#0b3a15" opacity="0.85"/><ellipse cx="778.61" cy="1106.79" rx="1.06" ry="1.00" fill="#62b050" opacity="0.85"/><ellipse cx="789.41" cy="1099.03" rx="1.46" ry="0.47" fill="#1c5a1f" opacity="0.85"/><ellipse cx="768.31" cy="1100.24" rx="1.36" ry="0.74" fill="#1c5a1f" opacity="0.85"/><rect x="732.42" y="1090.00" width="3.83" height="22.92" fill="#0b3a15" opacity="1"/><rect x="757.75" y="1085.00" width="1.17" height="27.92" fill="#0b3a15" opacity="1"/><rect x="771.83" y="1087.50" width="1.33" height="25.42" fill="#0b3a15" opacity="1"/><rect x="761.29" y="1090.00" width="0.75" height="22.92" fill="#0b3a15" opacity="1"/><rect x="779.58" y="1092.50" width="0.83" height="20.42" fill="#0b3a15" opacity="1"/><rect x="786.25" y="1092.50" width="0.83" height="20.42" fill="#0b3a15" opacity="1"/><rect x="727.00" y="1092.50" width="1.00" height="20.42" fill="#0b3a15" opacity="1"/><rect x="752.96" y="1092.50" width="0.75" height="20.42" fill="#0b3a15" opacity="1"/><rect x="766.33" y="1095.00" width="0.67" height="17.92" fill="#0b3a15" opacity="1"/><rect x="776.71" y="1096.67" width="0.75" height="16.25" fill="#0b3a15" opacity="1"/><rect x="789.67" y="1095.00" width="0.67" height="17.92" fill="#0b3a15" opacity="1"/><ellipse cx="734.33" cy="1110.42" rx="7.92" ry="4.58" fill="#0b3a15" opacity="1"/><ellipse cx="773.33" cy="1108.50" rx="5.83" ry="1.83" fill="#0b3a15" opacity="1"/><ellipse cx="750.83" cy="1109.00" rx="5.83" ry="1.50" fill="#0b3a15" opacity="1"/><ellipse cx="786.67" cy="1109.17" rx="5.00" ry="1.33" fill="#0b3a15" opacity="1"/><rect x="725.42" y="1109.00" width="66.42" height="3.92" fill="#0b3a15" opacity="1"/><ellipse cx="768.13" cy="1111.34" rx="0.57" ry="0.25" fill="#62b050" opacity="0.7"/><ellipse cx="758.45" cy="1110.38" rx="0.69" ry="0.25" fill="#62b050" opacity="0.7"/><ellipse cx="785.44" cy="1110.02" rx="0.69" ry="0.25" fill="#62b050" opacity="0.7"/><ellipse cx="788.55" cy="1110.68" rx="0.57" ry="0.25" fill="#62b050" opacity="0.7"/><ellipse cx="753.38" cy="1110.70" rx="0.54" ry="0.25" fill="#62b050" opacity="0.7"/><ellipse cx="771.91" cy="1109.64" rx="0.74" ry="0.25" fill="#62b050" opacity="0.7"/><ellipse cx="767.82" cy="1110.42" rx="0.67" ry="0.25" fill="#62b050" opacity="0.7"/><ellipse cx="769.96" cy="1110.61" rx="0.62" ry="0.25" fill="#62b050" opacity="0.7"/><ellipse cx="747.19" cy="1110.71" rx="0.51" ry="0.25" fill="#62b050" opacity="0.7"/><ellipse cx="788.02" cy="1111.51" rx="0.45" ry="0.25" fill="#62b050" opacity="0.7"/><ellipse cx="765.85" cy="1109.85" rx="0.51" ry="0.25" fill="#62b050" opacity="0.7"/><ellipse cx="781.55" cy="1111.46" rx="0.53" ry="0.25" fill="#62b050" opacity="0.7"/><ellipse cx="758.71" cy="1109.98" rx="0.59" ry="0.25" fill="#62b050" opacity="0.7"/><ellipse cx="786.57" cy="1109.85" rx="0.66" ry="0.25" fill="#62b050" opacity="0.7"/><ellipse cx="745.21" cy="1109.99" rx="0.43" ry="0.25" fill="#62b050" opacity="0.7"/><ellipse cx="775.66" cy="1110.25" rx="0.48" ry="0.25" fill="#62b050" opacity="0.7"/><ellipse cx="772.57" cy="1109.80" rx="0.64" ry="0.25" fill="#62b050" opacity="0.7"/><ellipse cx="749.79" cy="1110.65" rx="0.44" ry="0.25" fill="#62b050" opacity="0.7"/><ellipse cx="753.23" cy="1110.69" rx="0.52" ry="0.25" fill="#62b050" opacity="0.7"/><ellipse cx="761.39" cy="1110.44" rx="0.55" ry="0.25" fill="#62b050" opacity="0.7"/><ellipse cx="751.49" cy="1110.01" rx="0.60" ry="0.25" fill="#62b050" opacity="0.7"/><ellipse cx="773.43" cy="1110.69" rx="0.69" ry="0.25" fill="#62b050" opacity="0.7"/><ellipse cx="772.20" cy="1111.37" rx="0.43" ry="0.25" fill="#62b050" opacity="0.7"/><ellipse cx="778.12" cy="1111.27" rx="0.71" ry="0.25" fill="#62b050" opacity="0.7"/><ellipse cx="758.64" cy="1110.24" rx="0.72" ry="0.25" fill="#62b050" opacity="0.7"/></g></svg>
<span class="t" style="left:70.50px;top:16.62px;font-size:20.59px;line-height:20.59px;transform:scaleX(1.0314);color:#0b0b0b;font-family:'Liberation Sans',sans-serif;font-weight:700;">Bioma Predominante</span>
<span class="t" style="left:109.07px;top:71.65px;font-size:34.38px;line-height:34.38px;transform:scaleX(1.0683);color:#0a1644;font-family:'Liberation Sans',sans-serif;font-weight:700;">Amazônia</span>
</section>

</main>
<footer>
<div class="sq"></div><div class="bar"></div>
<svg class="ic" style="left:0;top:-1193.5px" width="1080" height="1350" viewBox="0 0 1080 1350"><g id="selo"><path d="M328.15 1256.46 L331.39 1253.74 L336.57 1250.17 L340.46 1248.55 L343.05 1248.55 L343.70 1246.93 L348.56 1246.74 L348.89 1248.55 L352.13 1248.88 L356.66 1251.47 L361.20 1254.71 L363.47 1256.66 L361.20 1256.85 L359.25 1255.68 L357.31 1255.36 L356.34 1256.33 L354.72 1254.71 L352.13 1255.36 L350.18 1255.03 L348.89 1254.06 L345.97 1254.71 L345.32 1252.44 L343.70 1254.39 L341.76 1254.06 L340.46 1255.68 L338.52 1254.06 L337.22 1254.39 L337.87 1256.66 L336.57 1256.85 L336.25 1254.71 L333.98 1255.36 L332.03 1256.33 L330.09 1255.81Z" fill="#fff" /><path d="M343.38 1249.20 L344.35 1250.82 L342.40 1252.12 L341.76 1251.15Z" fill="#222b7a" /><path d="M347.27 1249.20 L348.89 1251.15 L348.24 1252.12 L346.62 1251.15Z" fill="#222b7a" /><path d="M335.41 1261.00 L338.52 1259.05 L352.13 1259.05 L355.37 1260.87 L355.37 1277.72 L354.07 1280.96 L351.48 1284.20 L348.89 1285.37 L342.40 1285.37 L339.81 1284.20 L337.54 1281.28 L335.41 1277.72Z" fill="none" stroke="#fff" stroke-width="1.3" stroke-linejoin="round"/><path d="M335.41 1261.00 L336.90 1260.22 L336.90 1278.37 L335.41 1277.72Z" fill="#fff" opacity=".75"/><path d="M339.16 1262.49 L341.11 1261.52 L343.70 1262.16 L350.83 1262.49 L350.51 1264.11 L349.21 1266.70 L345.00 1267.02 L341.76 1266.70 L340.46 1265.40 L339.16 1264.76Z" fill="#fff" /><path d="M344.35 1263.78 L347.91 1263.59 L348.24 1265.40 L344.67 1265.73Z" fill="#222b7a" /><path d="M341.76 1268.97 L343.70 1271.24 L345.32 1271.89 L351.48 1267.02 L352.77 1269.62 L346.29 1273.51 L343.70 1272.66 L341.43 1270.27Z" fill="#fff" /><path d="M340.46 1266.05 L341.76 1267.02 L339.16 1272.53 L338.00 1272.86Z" fill="#fff" /><path d="M337.54 1279.14 L343.38 1273.96 L347.59 1273.96 L353.29 1279.14 L351.48 1279.14 L347.27 1275.13 L343.70 1275.13 L339.49 1279.14Z" fill="#fff" /><path d="M337.22 1279.79 L354.07 1279.79 L353.94 1280.63 L337.35 1280.63Z" fill="#fff" opacity=".9"/><path d="M340.46 1276.42 L350.83 1276.42 L351.48 1277.39 L339.81 1277.39Z" fill="#fff" opacity=".8"/><ellipse cx="330.74" cy="1258.92" rx="1.04" ry="1.81" transform="rotate(-10 330.74 1258.92)" fill="#fff"/><ellipse cx="360.23" cy="1258.92" rx="1.04" ry="1.81" transform="rotate(10 360.23 1258.92)" fill="#fff"/><ellipse cx="327.82" cy="1261.52" rx="2.46" ry="1.43" transform="rotate(30 327.82 1261.52)" fill="#fff"/><ellipse cx="363.14" cy="1261.52" rx="2.46" ry="1.43" transform="rotate(-30 363.14 1261.52)" fill="#fff"/><ellipse cx="332.68" cy="1261.84" rx="1.94" ry="0.91" transform="rotate(-20 332.68 1261.84)" fill="#fff"/><ellipse cx="358.28" cy="1261.84" rx="1.94" ry="0.91" transform="rotate(20 358.28 1261.84)" fill="#fff"/><ellipse cx="332.03" cy="1266.05" rx="2.46" ry="1.17" transform="rotate(-25 332.03 1266.05)" fill="#fff"/><ellipse cx="358.93" cy="1266.05" rx="2.46" ry="1.17" transform="rotate(25 358.93 1266.05)" fill="#fff"/><ellipse cx="328.47" cy="1265.73" rx="1.62" ry="0.78" transform="rotate(20 328.47 1265.73)" fill="#fff"/><ellipse cx="362.50" cy="1265.73" rx="1.62" ry="0.78" transform="rotate(-20 362.50 1265.73)" fill="#fff"/><ellipse cx="327.17" cy="1269.94" rx="1.04" ry="2.07" transform="rotate(-5 327.17 1269.94)" fill="#fff"/><ellipse cx="363.79" cy="1269.94" rx="1.04" ry="2.07" transform="rotate(5 363.79 1269.94)" fill="#fff"/><ellipse cx="331.71" cy="1270.59" rx="1.94" ry="0.84" transform="rotate(-30 331.71 1270.59)" fill="#fff"/><ellipse cx="359.25" cy="1270.59" rx="1.94" ry="0.84" transform="rotate(30 359.25 1270.59)" fill="#fff"/><ellipse cx="323.29" cy="1271.24" rx="2.27" ry="1.04" transform="rotate(-10 323.29 1271.24)" fill="#fff"/><ellipse cx="367.68" cy="1271.24" rx="2.27" ry="1.04" transform="rotate(10 367.68 1271.24)" fill="#fff"/><ellipse cx="323.93" cy="1269.29" rx="0.78" ry="1.43" transform="rotate(0 323.93 1269.29)" fill="#fff"/><ellipse cx="367.03" cy="1269.29" rx="0.78" ry="1.43" transform="rotate(0 367.03 1269.29)" fill="#fff"/><ellipse cx="328.79" cy="1274.15" rx="2.59" ry="1.17" transform="rotate(-10 328.79 1274.15)" fill="#fff"/><ellipse cx="362.17" cy="1274.15" rx="2.59" ry="1.17" transform="rotate(10 362.17 1274.15)" fill="#fff"/><ellipse cx="333.01" cy="1274.48" rx="0.91" ry="2.20" transform="rotate(-5 333.01 1274.48)" fill="#fff"/><ellipse cx="357.96" cy="1274.48" rx="0.91" ry="2.20" transform="rotate(5 357.96 1274.48)" fill="#fff"/><ellipse cx="330.74" cy="1277.72" rx="1.94" ry="0.91" transform="rotate(30 330.74 1277.72)" fill="#fff"/><ellipse cx="360.23" cy="1277.72" rx="1.94" ry="0.91" transform="rotate(-30 360.23 1277.72)" fill="#fff"/><ellipse cx="334.95" cy="1279.34" rx="2.07" ry="1.04" transform="rotate(10 334.95 1279.34)" fill="#fff"/><ellipse cx="356.01" cy="1279.34" rx="2.07" ry="1.04" transform="rotate(-10 356.01 1279.34)" fill="#fff"/><path d="M326.98 1279.66Q345.52 1299.27 364.12 1279.66" fill="none" stroke="#fff" stroke-width="3.6" stroke-linecap="butt"/><path d="M326.98 1279.66Q345.52 1299.27 364.12 1279.66" fill="none" stroke="#222b7a" stroke-width="1.0" stroke-dasharray="2.2 1.1"/><path d="M333.01 1290.03 L335.92 1288.09 L337.22 1289.38 L334.30 1291.20Z" fill="#fff" /><path d="M357.96 1290.03 L355.04 1288.09 L353.75 1289.38 L356.66 1291.20Z" fill="#fff" /><path d="M337.87 1280.63Q345.64 1289.38 353.55 1280.63" fill="none" stroke="#fff" stroke-width="1.1"/></g><defs><linearGradient id="dq" x1="0" y1="0" x2="1" y2="1"><stop offset="0" stop-color="#0a6fc4"/><stop offset=".6" stop-color="#12b6d8"/><stop offset="1" stop-color="#55dc78"/></linearGradient></defs><g id="dados-ic"><path d="M519.33 1255.50L534.33 1248.67" stroke="#a9b9e8" stroke-width=".5"/><path d="M519.33 1255.50L521.83 1271.83" stroke="#a9b9e8" stroke-width=".5"/><rect x="530.00" y="1244.17" width="8.83" height="8.83" rx="1.2" fill="url(#dq)"/><rect x="515.00" y="1251.17" width="8.67" height="8.83" rx="1.2" fill="url(#dq)"/><rect x="520.00" y="1270.00" width="3.67" height="3.67" rx="0.6" fill="url(#dq)"/><rect x="521.83" y="1242.83" width="2.00" height="2.00" rx="0.5" fill="url(#dq)"/><rect x="512.67" y="1264.00" width="2.00" height="2.00" rx="0.5" fill="url(#dq)"/></g></svg>
<span class="t" style="left:275.17px;top:50.35px;font-size:8.59px;line-height:8.59px;transform:scaleX(0.9464);color:#2a3588;font-family:'Liberation Sans',sans-serif;font-weight:400;-webkit-text-stroke:.45px #2a3588;">SEPLAG</span>
<span class="t" style="left:267.58px;top:60.83px;font-size:8.71px;line-height:8.71px;transform:scaleX(0.9919);color:#2a3588;font-family:'Liberation Sans',sans-serif;font-weight:400;-webkit-text-stroke:.45px #2a3588;">Secretaria</span>
<span class="t" style="left:258.69px;top:71.26px;font-size:8.78px;line-height:8.78px;transform:scaleX(0.9506);color:#2a3588;font-family:'Liberation Sans',sans-serif;font-weight:400;-webkit-text-stroke:.45px #2a3588;">de Estado de</span>
<span class="t" style="left:253.70px;top:81.88px;font-size:8.58px;line-height:8.58px;transform:scaleX(1.0217);color:#2a3588;font-family:'Liberation Sans',sans-serif;font-weight:400;-webkit-text-stroke:.45px #2a3588;">Planejamento</span>
<span class="t" style="left:273.80px;top:92.30px;font-size:8.71px;line-height:8.71px;transform:scaleX(0.9513);color:#2a3588;font-family:'Liberation Sans',sans-serif;font-weight:400;-webkit-text-stroke:.45px #2a3588;">e Gestão</span>
<span class="t" style="left:383.95px;top:50.05px;font-size:15.15px;line-height:15.15px;transform:scaleX(0.9829);color:#222b7a;font-family:'Liberation Sans',sans-serif;font-weight:700;-webkit-text-stroke:.7px #222b7a;">Governo de</span>
<span class="t" style="left:383.49px;top:64.97px;font-size:18.59px;line-height:18.59px;transform:scaleX(1.1702);color:#222b7a;font-family:'Liberation Sans',sans-serif;font-weight:700;-webkit-text-stroke:.9px #222b7a;">Mato</span>
<span class="t" style="left:383.66px;top:83.39px;font-size:18.12px;line-height:18.12px;transform:scaleX(1.0676);color:#222b7a;font-family:'Liberation Sans',sans-serif;font-weight:700;-webkit-text-stroke:.9px #222b7a;">Grosso</span>
<div class="dlogo"><span class="t dados" style="left:524.16px;top:55.01px;font-size:50.05px;line-height:50.05px;transform:scaleX(0.8288);color:#1cc8e0;font-family:'Liberation Sans',sans-serif;font-weight:700;font-style:italic;">DADOS</span><span class="t mt" style="left:676.26px;top:55.88px;font-size:49.32px;line-height:49.32px;transform:scaleX(0.9262);color:#0a4fa3;font-family:'Liberation Sans',sans-serif;font-weight:700;font-style:italic;">MT</span><span class="t" style="left:738.48px;top:59.53px;font-size:45.40px;line-height:45.40px;transform:scaleX(0.9345);color:#00aeef;font-family:'Liberation Sans',sans-serif;font-weight:700;font-style:italic;">.</span><span class="t gov" style="left:749.80px;top:66.30px;font-size:37.55px;line-height:37.55px;transform:scaleX(1.0081);color:#6d6e71;font-family:'Liberation Sans',sans-serif;font-weight:400;font-style:italic;">gov</span><span class="t" style="left:809.37px;top:59.58px;font-size:45.26px;line-height:45.26px;transform:scaleX(0.9478);color:#00aeef;font-family:'Liberation Sans',sans-serif;font-weight:700;font-style:italic;">.</span><span class="t gov" style="left:823.32px;top:68.61px;font-size:35.15px;line-height:35.15px;transform:scaleX(1.0779);color:#6d6e71;font-family:'Liberation Sans',sans-serif;font-weight:400;font-style:italic;">br</span></div>
</footer>
</div>
</body>
</html>
